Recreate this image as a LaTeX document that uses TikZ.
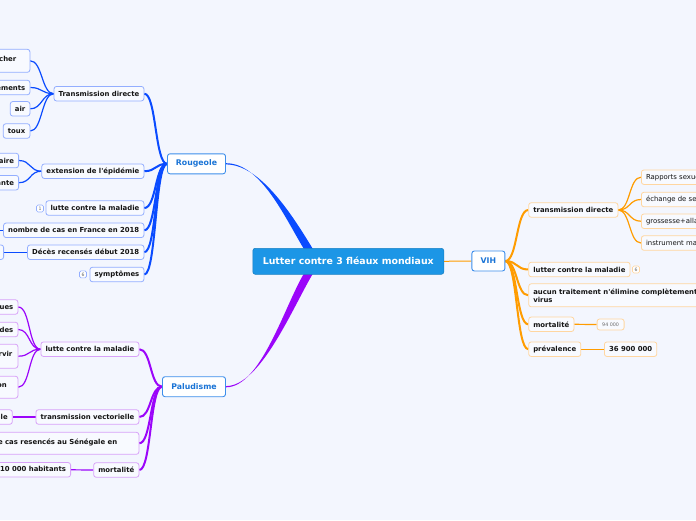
\documentclass[tikz,border=0pt]{standalone}
\usepackage{fontspec}
\setmainfont{DejaVu Sans}[Ligatures=TeXOff]
\usetikzlibrary{calc}
\pgfdeclarelayer{back}
\pgfdeclarelayer{links}
\pgfsetlayers{back,links,main}
\definecolor{bg}{HTML}{F3F6FE}
\definecolor{cfill}{HTML}{1C96E6}
\definecolor{mainb}{HTML}{3D8EEB}
\definecolor{maintxt}{HTML}{1A74D6}
\definecolor{lineB}{HTML}{0A4BFF}
\definecolor{lineP}{HTML}{9B05FA}
\definecolor{lineO}{HTML}{FF9C00}
\definecolor{brdB}{HTML}{93AEFF}
\definecolor{brdP}{HTML}{D8A2F8}
\definecolor{brdO}{HTML}{FFD6A0}
\definecolor{subfill}{HTML}{F8FAFF}
\definecolor{txt}{HTML}{141414}
\definecolor{badgetxt}{HTML}{6A6A6A}
\newcommand{\padR}[1]{\hspace*{#1}\mbox{}}
\tikzset{
  centralbox/.style={fill=cfill, draw=cfill!85!black, line width=0.6pt, rounded corners=2.5pt, text=white,
    font=\bfseries\fontsize{9.4}{11}\selectfont, minimum width=191pt, minimum height=26pt, inner sep=0pt},
  mainbox/.style={fill=white, draw=mainb, line width=0.9pt, rounded corners=2.5pt, text=maintxt,
    font=\bfseries\fontsize{7.8}{9}\selectfont, minimum height=20pt, inner sep=0pt},
  subbox/.style={fill=subfill, line width=0.8pt, rounded corners=2.5pt, text=txt,
    font=\bfseries\fontsize{6.9}{8}\selectfont, minimum height=14.5pt, inner xsep=4.6pt, inner ysep=2pt},
  subB/.style={subbox, draw=brdB},
  subP/.style={subbox, draw=brdP},
  subO/.style={subbox, draw=brdO},
  subOr/.style={subO, font=\fontsize{6.9}{8}\selectfont},
  tinyO/.style={subO, font=\fontsize{4.8}{5}\selectfont, text=badgetxt, minimum height=11pt, minimum width=27pt, inner xsep=2pt},
  badge/.style={fill=white, line width=0.6pt, rounded corners=1.5pt, text=badgetxt,
    font=\fontsize{4.6}{5}\selectfont, minimum width=7pt, minimum height=7pt, inner sep=0.4pt},
  linkB/.style={draw=lineB, line width=2pt},
  linkP/.style={draw=lineP, line width=2pt},
  linkO/.style={draw=lineO, line width=2pt},
  slinkB/.style={draw=lineB, line width=1.2pt},
  slinkP/.style={draw=lineP, line width=1.2pt},
  slinkO/.style={draw=lineO, line width=1.2pt},
}
\begin{document}
\begin{tikzpicture}[x=1pt,y=-1pt]
\useasboundingbox (0,0) rectangle (696,520);
\begin{pgfonlayer}{back}
\fill[bg] (0,0) rectangle (696,520);
\end{pgfonlayer}

% ---------- nodes: central and main ----------
\node[centralbox] (C) at (348.3,261.3) {Lutter contre 3 fléaux mondiaux};
\node[mainbox, minimum width=58pt] (R) at (196.5,163.8) {Rougeole};
\node[mainbox, minimum width=63pt] (P) at (194,386.7) {Paludisme};
\node[mainbox, minimum width=33pt] (V) at (488.4,261) {VIH};

% ---------- Rougeole children ----------
\node[subB, anchor=east] (rtd) at (144.3,93.7) {Transmission directe};
\node[subB, anchor=east] (rext) at (144.3,171.2) {extension de l'épidémie};
\node[subB, anchor=east] (rlut) at (144.3,208) {lutte contre la maladie};
\node[badge, draw=brdB] (rb1) at (40,208.5) {1};
\node[subB, anchor=east] (rnb) at (144.3,230.3) {nombre de cas en France en 2018};
\node[subB, anchor=east] (rdc) at (144.3,252.2) {Décès recensés début 2018};
\node[subB, anchor=east] (rsy) at (144.3,274.5) {symptômes};
\node[badge, draw=brdB] (rb6) at (83,274.4) {6};

\node[subB, anchor=east, minimum height=23pt] (t1) at (30.3,60.8) {\raisebox{4pt}{toucher}\padR{9pt}};
\node[subB, anchor=east] (t2) at (30.3,87.5) {éternuements};
\node[subB, anchor=east] (t3) at (30.3,108.8) {air};
\node[subB, anchor=east] (t4) at (30.3,131) {toux};

\node[subB, anchor=east] (e1) at (19,160.5) {milieu scolaire};
\node[subB, anchor=east] (e2) at (19,182.7) {couverture vaccinale insuffisante};

\coordinate (nbc) at (-12,230.3);
\node[subB, anchor=east] (d1) at (4,252.2) {3 décès};

% ---------- Paludisme children ----------
\node[subP, anchor=east] (plut) at (139.3,349.2) {lutte contre la maladie};
\node[subP, anchor=east] (ptv) at (139.3,417) {transmission vectorielle};
\node[subP, anchor=east, minimum height=22pt] (pnb) at (139.3,443.3) {\raisebox{3.5pt}{Nombre de cas resencés au Sénégale en}\padR{17pt}};
\node[subP, anchor=east] (pmo) at (139.3,470) {mortalité};

\node[subP, anchor=east] (p1) at (18.3,307) {médicaments antipaludiques};
\node[subP, anchor=east] (p2) at (18.3,329.5) {insecticides};
\node[subP, anchor=east, minimum height=24pt] (p3) at (18.3,356.2) {\raisebox{4.5pt}{servir}\padR{1pt}};
\node[subP, anchor=east, minimum height=22pt] (p4) at (18.3,387.2) {\raisebox{4pt}{vaccination}\padR{6.5pt}};
\node[subP, anchor=east] (pt1) at (12.7,417) {moustique anophèle};
\node[subP, anchor=east] (pm1) at (71,469.8) {décès pour 10 000 habitants};

% ---------- VIH children ----------
\node[subO, anchor=west] (vtd) at (528.3,210) {transmission directe};
\node[subO, anchor=west] (vlu) at (528.3,269.5) {lutter contre la maladie};
\node[badge, draw=brdO] (vb) at (636,269.5) {6};
\node[subO, anchor=west, align=left, minimum height=23pt] (vau) at (528.3,295.3) {aucun traitement n'élimine complètement le\\virus};
\node[subO, anchor=west] (vmo) at (528.3,324.3) {mortalité};
\node[subO, anchor=west] (vpr) at (528.3,349.2) {prévalence};

\node[subOr, anchor=west] (v1) at (641,177.2) {Rapports sexuels};
\node[subOr, anchor=west] (v2) at (641,199.5) {échange de seringues};
\node[subOr, anchor=west] (v3) at (641,221.2) {grossesse+allaitement};
\node[subOr, anchor=west] (v4) at (641,243) {instrument mal stérilisé};
\node[tinyO, anchor=west] (v94) at (596.7,324.5) {94 000};
\node[subO, anchor=west] (v369) at (604,349.2) {36 900 000};

% ---------- connectors (behind nodes) ----------
\begin{pgfonlayer}{links}
% central to main topics (tapered)
\fill[lineB] ($(R.east)+(0,-0.6)$) .. controls +(35,0) and +(-20,-33) .. ($(C.north west)+(52,2)$)
  -- ($(C.north west)+(61,2)$) .. controls +(-20,-33) and +(35,0) .. ($(R.east)+(0,0.6)$) -- cycle;
\fill[lineP] ($(P.east)+(0,0.6)$) .. controls +(35,0) and +(-20,33) .. ($(C.south west)+(52,-2)$)
  -- ($(C.south west)+(61,-2)$) .. controls +(-20,33) and +(35,0) .. ($(P.east)+(0,-0.6)$) -- cycle;
\draw[lineO, line width=1pt] (C.east) -- (V.west);

% Rougeole
\foreach \n in {rtd,rext,rlut,rnb,rdc,rsy}
  \draw[linkB] (R.west) .. controls +(-12,0) and +(12,0) .. (\n.east);
\foreach \n in {t1,t2,t3,t4}
  \draw[slinkB] (rtd.west) .. controls +(-12,0) and +(12,0) .. (\n.east);
\foreach \n in {e1,e2}
  \draw[slinkB] (rext.west) .. controls +(-12,0) and +(12,0) .. (\n.east);
\draw[slinkB] (rnb.west) -- (nbc);
\draw[slinkB] (rdc.west) -- (d1.east);

% Paludisme
\foreach \n in {plut,ptv,pnb,pmo}
  \draw[linkP] (P.west) .. controls +(-12,0) and +(12,0) .. (\n.east);
\foreach \n in {p1,p2,p3,p4}
  \draw[slinkP] (plut.west) .. controls +(-12,0) and +(12,0) .. (\n.east);
\draw[slinkP] (ptv.west) -- (pt1.east);
\draw[slinkP] (pmo.west) -- (pm1.east);

% VIH
\foreach \n in {vtd,vlu,vau,vmo,vpr}
  \draw[linkO] (V.east) .. controls +(12,0) and +(-12,0) .. (\n.west);
\foreach \n in {v1,v2,v3,v4}
  \draw[slinkO] (vtd.east) .. controls +(12,0) and +(-12,0) .. (\n.west);
\draw[slinkO] (vmo.east) -- (v94.west);
\draw[slinkO] (vpr.east) -- (v369.west);
\end{pgfonlayer}
\end{tikzpicture}
\end{document}
